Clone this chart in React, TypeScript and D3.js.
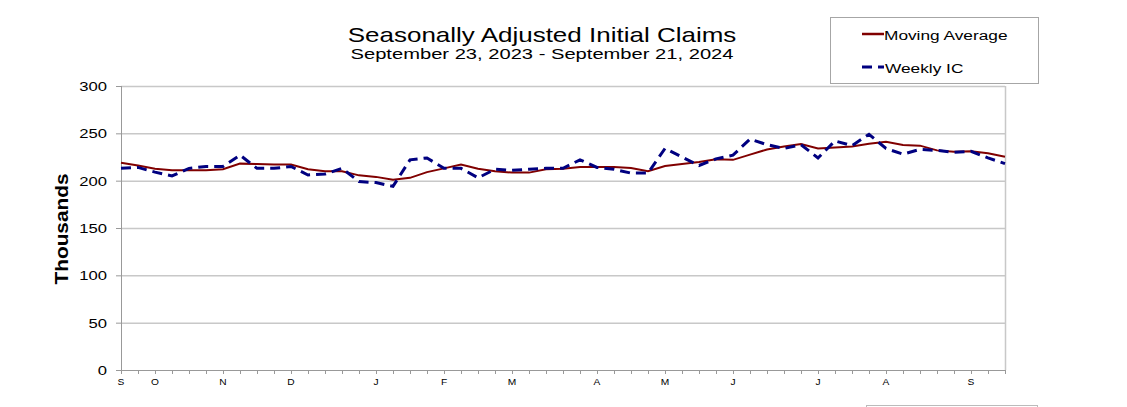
import React from 'react';
import * as d3 from 'd3';

// weekly values, Sep 23 2023 .. Sep 21 2024 (thousands)
const weeklyIC = [
  213, 214, 209, 205, 213, 215, 215, 227, 213, 213, 215, 206, 207,
  213, 199, 198, 194, 222, 224, 213, 213, 203, 212, 211, 212, 213,
  213, 222, 214, 212, 208, 208, 234, 225, 216, 223, 227, 244, 238,
  234, 238, 224, 242, 237, 249, 234, 228, 233, 232, 230, 231, 224, 218,
];
const movingAverage = [
  219, 216, 212.7, 211, 211, 211, 212, 218, 217.6, 217, 217, 212, 210,
  210, 205.6, 204, 201, 203, 209, 213, 217, 212.7, 210, 208.5, 208.5, 212,
  212.5, 214.4, 214.4, 214.4, 213.4, 210, 215.5, 217.6, 219.7, 222.5, 222, 227.5, 233,
  236, 238.7, 234, 235, 236, 239, 241, 237.7, 237, 232, 230.6, 231, 229, 225.3,
];
const monthLabels = ['S', 'O', 'N', 'D', 'J', 'F', 'M', 'A', 'M', 'J', 'J', 'A', 'S'];
const monthWeeks = [0, 2, 6, 10, 15, 19, 23, 28, 32, 36, 41, 45, 50];
const yTicks = [0, 50, 100, 150, 200, 250, 300];

const W = 1127;
const H = 407;
const left = 121;
const right = 1005;
const top = 86;
const bottom = 370;
const font = '"Liberation Sans", Arial, sans-serif';

const T: React.FC<{ x: number; y: number; size: number; sx?: number; anchor?: string; weight?: string; children: React.ReactNode; fill?: string }> = ({ x, y, size, sx = 1.3, anchor = 'start', weight = 'normal', children, fill = '#000' }) => (
  <text
    transform={`translate(${x},${y}) scale(${sx},1)`}
    fontSize={size}
    fontFamily={font}
    fontWeight={weight}
    textAnchor={anchor}
    fill={fill}
  >
    {children}
  </text>
);

export default function App() {
  const n = weeklyIC.length;
  const x = d3.scaleLinear().domain([0, n - 1]).range([left, right]);
  const y = d3.scaleLinear().domain([0, 300]).range([bottom, top]);
  const line = d3.line<number>().x((_, i) => x(i)).y(d => y(d));

  return (
    <svg width={W} height={H} style={{ position: 'absolute', left: 0, top: 0, background: '#fff' }}>
      {/* title */}
      <T x={542} y={42} size={20} anchor="middle">Seasonally Adjusted Initial Claims</T>
      <T x={542} y={59} size={15.5} anchor="middle">September 23, 2023 - September 21, 2024</T>

      {/* legend */}
      <rect x={830.5} y={17.5} width={208} height={66} fill="#fff" stroke="#a6a6a6" />
      <line x1={862} x2={884} y1={34} y2={34} stroke="#800000" strokeWidth={2.5} />
      <T x={884} y={39.5} size={13.3}>Moving Average</T>
      <line x1={862} x2={884} y1={67} y2={67} stroke="#000080" strokeWidth={3} strokeDasharray="10,6" />
      <T x={885} y={72.5} size={13.3}>Weekly IC</T>

      <rect x={866.5} y={405.5} width={171} height={20} fill="none" stroke="#bbb" />

      {/* grid */}
      {yTicks.map(t => (
        <g key={t}>
          {t > 0 && <line x1={left} x2={right} y1={y(t) + 0.5} y2={y(t) + 0.5} stroke="#c8c8c8" strokeWidth={1.5} />}
          <line x1={left - 5} x2={left} y1={y(t) + 0.5} y2={y(t) + 0.5} stroke="#999" />
          <T x={107} y={y(t) + 5} size={12.8} anchor="end">{t}</T>
        </g>
      ))}
      <line x1={right + 0.5} x2={right + 0.5} y1={top} y2={bottom} stroke="#c8c8c8" strokeWidth={1.5} />
      <line x1={left + 0.5} x2={left + 0.5} y1={top} y2={bottom + 4} stroke="#999" />
      <line x1={left} x2={right + 1} y1={bottom + 0.5} y2={bottom + 0.5} stroke="#999" />
      {d3.range(n).map(i => (
        <line key={i} x1={x(i) + 0.5} x2={x(i) + 0.5} y1={bottom} y2={bottom + 4} stroke="#999" />
      ))}
      {monthLabels.map((m, i) => (
        <T key={i} x={x(monthWeeks[i])} y={385} size={8.5} sx={1.2} anchor="middle">{m}</T>
      ))}

      <g transform="translate(68,229) rotate(-90)">
        <text fontSize={18} fontWeight="bold" fontFamily={font} textAnchor="middle" textLength={111} lengthAdjust="spacingAndGlyphs">Thousands</text>
      </g>

      {/* series */}
      <path d={line(movingAverage) as string} fill="none" stroke="#800000" strokeWidth={2} />
      <path d={line(weeklyIC) as string} fill="none" stroke="#000080" strokeWidth={3} strokeDasharray="10,6" />
    </svg>
  );
}
